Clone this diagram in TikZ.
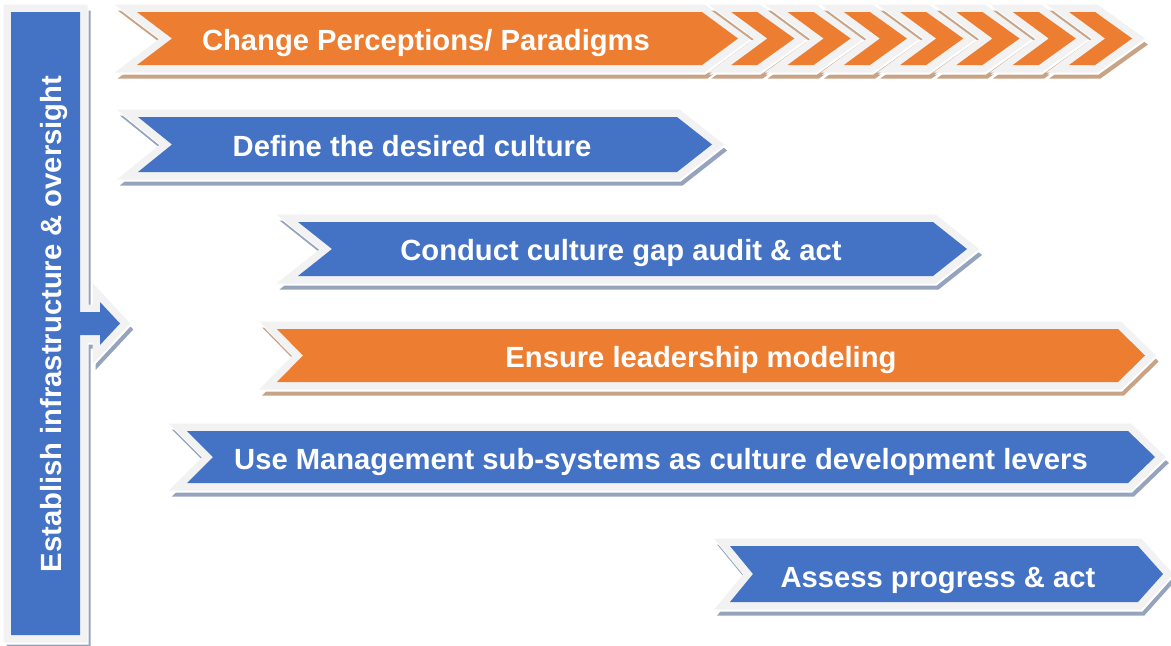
\documentclass[tikz,border=0pt]{standalone}
\usepackage{fontspec}
\setmainfont{Liberation Sans}
\definecolor{cblue}{HTML}{4472C4}
\definecolor{corange}{HTML}{ED7D31}
\definecolor{cborder}{HTML}{F2F2F2}
\definecolor{sblue}{HTML}{95A3BD}
\definecolor{sorange}{HTML}{C8A386}
\tikzset{
  rim/.style={line width=11.25pt, line join=miter, miter limit=20},
  lbl/.style={text=white, font=\fontsize{21.9}{26}\selectfont\bfseries, inner sep=0pt, anchor=base},
}
% chevron outline: left, notch depth, tip x, tip depth, top, bottom
\newcommand{\chevpath}[6]{(#1,#5) -- (#3-#4,#5) -- (#3,{(#5+#6)/2}) -- (#3-#4,#6) -- (#1,#6) -- (#1+#2,{(#5+#6)/2}) -- cycle}
% chevron with drop shadow, light rim and coloured face
\newcommand{\chevron}[8]{%
  \draw[rim, draw=#8, fill=#8, shift={(3,6)}] \chevpath{#1}{#2}{#3}{#4}{#5}{#6};
  \draw[rim, draw=white, fill=white, shift={(1,2)}] \chevpath{#1}{#2}{#3}{#4}{#5}{#6};
  \draw[rim, draw=cborder] \chevpath{#1}{#2}{#3}{#4}{#5}{#6};
  \fill[#7] \chevpath{#1}{#2}{#3}{#4}{#5}{#6};
}
\newcommand{\barpath}{(11,12) -- (80,12) -- (80,312) -- (100,312) -- (100,302) -- (120,323.5) -- (100,345) -- (100,335) -- (80,335) -- (80,635) -- (11,635) -- cycle}
\begin{document}
\begin{tikzpicture}[x=0.75pt, y=-0.75pt]
\useasboundingbox (0,0) rectangle (1171,646);

% vertical bar with arrow pointing right
\draw[rim, draw=sblue, fill=sblue, shift={(3,6)}] \barpath;
\draw[rim, draw=white, fill=white, shift={(1,2)}] \barpath;
\draw[rim, draw=cborder] \barpath;
\fill[cblue] \barpath;
\node[lbl, rotate=90] (infra) at (61,324) {Establish infrastructure \& oversight};

% row 1: long chevron followed by a run of small ones
\chevron{137}{35}{738}{36}{12}{65}{corange}{sorange}
\foreach \k in {1,...,7}{
  \pgfmathsetmacro{\tip}{738+56.3*\k}
  \pgfmathsetmacro{\lft}{\tip-63}
  \chevron{\lft}{36}{\tip}{37}{12}{65}{corange}{sorange}
}
\node[lbl] (perc) at (426,50) {Change Perceptions/ Paradigms};

% row 2
\chevron{138}{34}{712}{35}{117}{172}{cblue}{sblue}
\node[lbl] (define) at (412,156) {Define the desired culture};

% row 3
\chevron{298}{34}{967}{34}{222}{276}{cblue}{sblue}
\node[lbl] (audit) at (621,260) {Conduct culture gap audit \& act};

% row 4
\chevron{277}{26}{1145}{27}{329}{382}{corange}{sorange}
\node[lbl] (lead) at (701,367) {Ensure leadership modeling};

% row 5
\chevron{187}{26}{1155}{27}{431}{483}{cblue}{sblue}
\node[lbl] (levers) at (661,469) {Use Management sub-systems as culture development levers};

% row 6
\chevron{730}{23}{1163}{25}{546}{602}{cblue}{sblue}
\node[lbl] (assess) at (938,587) {Assess progress \& act};
\end{tikzpicture}
\end{document}
